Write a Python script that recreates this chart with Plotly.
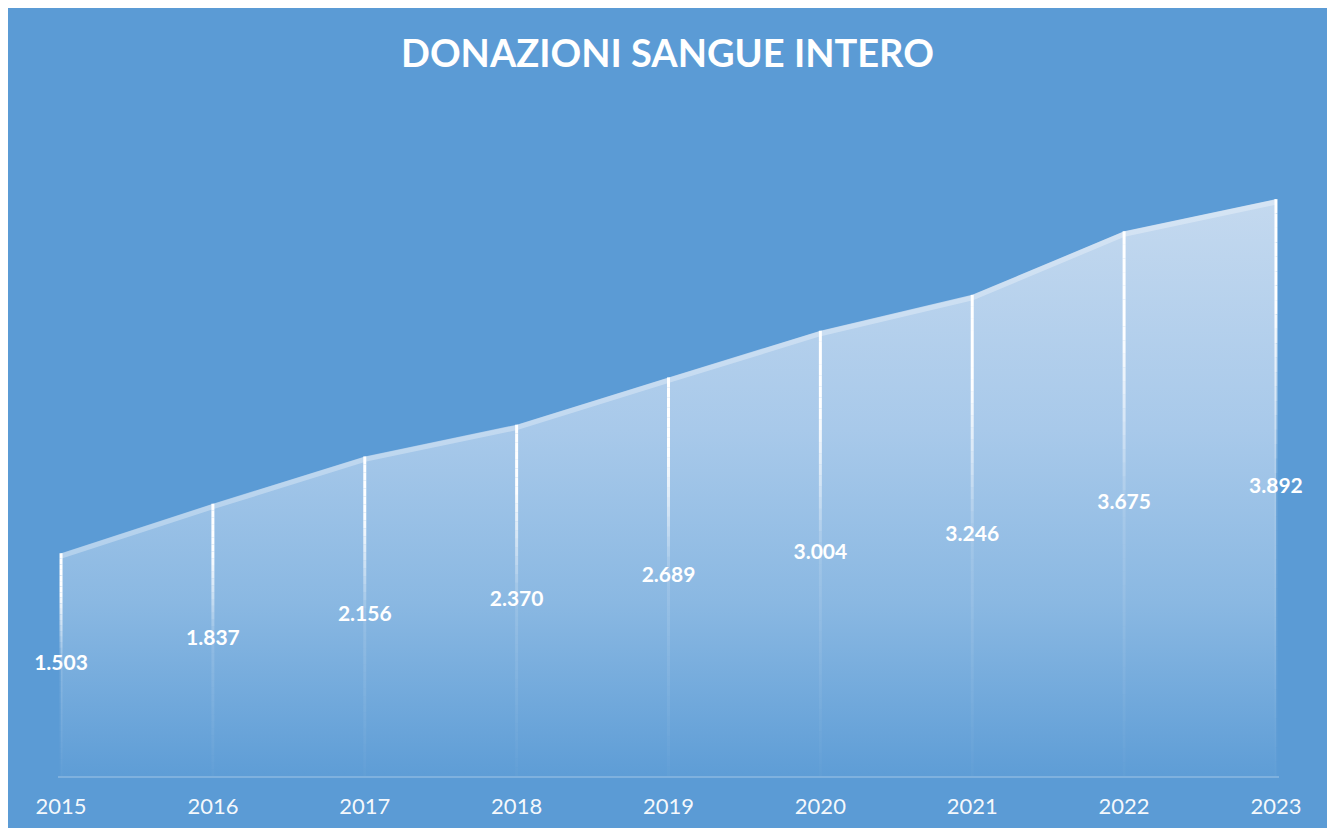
import plotly.graph_objects as go

years = [2015, 2016, 2017, 2018, 2019, 2020, 2021, 2022, 2023]
donazioni = [1503, 1837, 2156, 2370, 2689, 3004, 3246, 3675, 3892]
title_text = "DONAZIONI SANGUE INTERO"

BG = "#5B9BD5"
# page body has an 8px margin; figure is sized to fit the window without scrolling
W, H = 1327, 820
L, R, T, B = 50, 56, 101, 52
XR = [2014.98, 2023.02]
YR = [0, 4500]

fig = go.Figure()

vmax = max(donazioni)
fig.add_trace(go.Scatter(
    x=years, y=donazioni, mode="lines", line=dict(width=0),
    fill="tozeroy",
    fillgradient=dict(type="vertical", start=0, stop=vmax,
                      colorscale=[[0.0, "#5E9DD6"], [0.3, "#8AB8E2"],
                                  [0.6, "#A8C9EA"], [1.0, "#C4D9EF"]]),
    hoverinfo="skip", showlegend=False))

fig.add_trace(go.Scatter(
    x=years, y=[v - 20 for v in donazioni], mode="lines",
    line=dict(width=5, color="rgba(255,255,255,0.3)"),
    hoverinfo="skip", showlegend=False))

shapes = []
N = 40
for x, v in zip(years, donazioni):
    for i in range(N):
        f0 = 1 - i / N
        f1 = 1 - (i + 1) / N
        fm = (f0 + f1) / 2
        if fm >= 0.82:
            op = 1.0
        elif fm >= 0.52:
            op = 0.15 + 0.85 * (fm - 0.52) / 0.30
        else:
            op = 0.12 * fm / 0.52 + 0.02
        shapes.append(dict(type="line", xref="x", yref="y",
                           x0=x, x1=x, y0=v * f0, y1=v * f1,
                           line=dict(color=f"rgba(255,255,255,{op:.3f})", width=3),
                           layer="above"))

px_w = W - L - R
px_h = H - T - B
def px_to_paper_x(px):
    return (px - L) / px_w
def px_to_paper_y(py):
    return (H - B - py) / px_h
shapes.append(dict(type="rect", xref="paper", yref="paper",
                   x0=px_to_paper_x(0), x1=px_to_paper_x(1322),
                   y0=px_to_paper_y(H), y1=px_to_paper_y(0),
                   fillcolor=BG, line=dict(width=0), layer="below"))

fig.add_trace(go.Scatter(
    x=years, y=[v / 2 for v in donazioni], mode="text",
    text=[f"{v:,}".replace(",", ".") for v in donazioni],
    textposition="middle center",
    textfont=dict(family="Lato", size=21, color="white", weight="bold"),
    hoverinfo="skip", showlegend=False, cliponaxis=False))

fig.update_layout(
    width=W, height=H,
    margin=dict(l=L, r=R, t=T, b=B, pad=0, autoexpand=False),
    paper_bgcolor="white",
    plot_bgcolor="rgba(0,0,0,0)",
    shapes=shapes,
    showlegend=False,
    annotations=[dict(text=f"<b>{title_text}</b>", xref="paper", yref="paper",
                      x=px_to_paper_x(659), y=px_to_paper_y(44),
                      xanchor="center", yanchor="middle", showarrow=False,
                      font=dict(family="Lato", size=38, color="white"))],
    xaxis=dict(range=XR, tickvals=years, ticktext=[str(y) for y in years],
               automargin=False,
               showgrid=False, zeroline=False, showline=True,
               linecolor="rgba(255,255,255,0.22)", linewidth=2,
               ticks="", ticklabelstandoff=10,
               tickfont=dict(family="Lato", size=22, color="rgba(255,255,255,0.95)")),
    yaxis=dict(range=YR, visible=False, showgrid=False, zeroline=False),
)

fig.write_html("out.html")
